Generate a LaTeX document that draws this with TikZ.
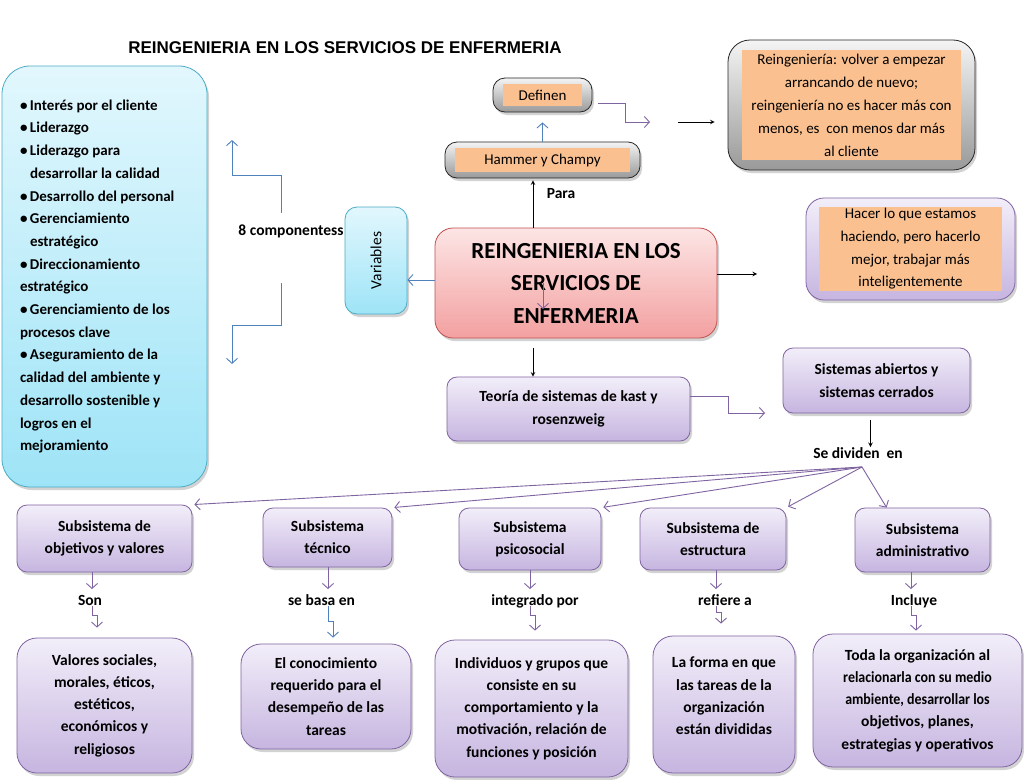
\documentclass[tikz,border=0pt]{standalone}
\usepackage{fontspec}
\usepackage{graphicx}
\setmainfont{Carlito}
\newfontfamily\titlefont{Liberation Sans}
\usetikzlibrary{shadows,arrows.meta}
\definecolor{pline}{HTML}{8064A2}
\definecolor{ptop}{HTML}{F2EEF9}
\definecolor{pbot}{HTML}{C6B5E0}
\definecolor{cline}{HTML}{4BACC6}
\definecolor{ctop}{HTML}{E2F7FD}
\definecolor{cbot}{HTML}{9EE4F7}
\definecolor{rline}{HTML}{C0504D}
\definecolor{rtop}{HTML}{FDE5E5}
\definecolor{rbot}{HTML}{F3A0A0}
\definecolor{gtop}{HTML}{F4F4F4}
\definecolor{gbot}{HTML}{999999}
\definecolor{fillorange}{HTML}{FAC090}
\definecolor{bline}{HTML}{4F81BD}

\begin{document}
\begin{tikzpicture}[x=1pt,y=-1pt,
    boxshadow/.style={drop shadow={shadow xshift=2pt,shadow yshift=-3pt,opacity=0.35}},
    pbox/.style={draw=pline, line width=0.8pt, rounded corners=10pt, top color=ptop, bottom color=pbot,
      boxshadow, align=center, inner sep=0pt, font=\bfseries\fontsize{15.5}{22.2}\selectfont},
    cbox/.style={draw=cline, line width=0.8pt, top color=ctop, bottom color=cbot, boxshadow, inner sep=0pt},
    rbox/.style={draw=rline, line width=0.8pt, rounded corners=18pt, top color=rtop, bottom color=rbot,
      boxshadow, align=center, inner sep=0pt},
    gbox/.style={draw=black!85, line width=0.8pt, rounded corners=12pt, top color=gtop, bottom color=gbot,
      boxshadow, align=center, inner sep=0pt, font=\fontsize{15}{23}\selectfont},
    inset/.style 2 args={path picture={\fill[fillorange, sharp corners]
      ([xshift=#1,yshift=#2]path picture bounding box.south west) rectangle
      ([xshift=-#1,yshift=-#2]path picture bounding box.north east);}},
    word/.style={inner sep=0pt, font=\bfseries\fontsize{15.5}{17}\selectfont, text height=10.5pt, text depth=3pt},
    parr/.style={draw=pline, line width=0.9pt, -{Straight Barb[length=5pt,width=11pt]}},
    barr/.style={draw=bline, line width=0.9pt, -{Straight Barb[length=5pt,width=11pt]}},
    karr/.style={->, >=stealth, line width=1pt}]

    \fill[white] (0,0) rectangle (1024,779);
    \useasboundingbox (0,0) rectangle (1024,779);

    %%%%%%%%%%%%%%%%%%%%%%%%%%%%%%%%%%%%%%%%%%%%%%
    %%% Title and the main box
    %%%%%%%%%%%%%%%%%%%%%%%%%%%%%%%%%%%%%%%%%%%%%%
    \node[inner sep=0pt, font=\titlefont\bfseries\fontsize{17}{20}\selectfont] (title) at (345,48)
        {REINGENIERIA EN LOS SERVICIOS DE ENFERMERIA};
    \node[rbox, minimum width=282pt, minimum height=110pt, font=\bfseries\fontsize{23}{32.5}\selectfont]
        (central) at (576,283) {REINGENIERIA EN LOS\\SERVICIOS DE\\ENFERMERIA};
    % stray arrow inside the main box
    \draw[parr] ([xshift=-33pt]central.center) -- ++(0,26);

    %%%%%%%%%%%%%%%%%%%%%%%%%%%%%%%%%%%%%%%%%%%%%%
    %%% Left side: variables and the 8 components
    %%%%%%%%%%%%%%%%%%%%%%%%%%%%%%%%%%%%%%%%%%%%%%
    \node[cbox, rounded corners=28pt, minimum width=205pt, minimum height=421pt, text width=169pt,
        align=flush left, inner xsep=18pt, font=\bfseries\fontsize{15}{22.7}\selectfont] (comps) at (104.5,276.5) {%
        \makebox[10pt][l]{•}Interés por el cliente\\
        \makebox[10pt][l]{•}Liderazgo\\
        \makebox[10pt][l]{•}Liderazgo para\\
        \hspace*{10pt}desarrollar la calidad\\
        \makebox[10pt][l]{•}Desarrollo del personal\\
        \makebox[10pt][l]{•}Gerenciamiento\\
        \hspace*{10pt}estratégico\\
        \makebox[10pt][l]{•}Direccionamiento\\
        estratégico\\
        \makebox[10pt][l]{•}Gerenciamiento de los\\
        procesos clave\\
        \makebox[10pt][l]{•}Aseguramiento de la\\
        calidad del ambiente y\\
        desarrollo sostenible y\\
        logros en el\\
        mejoramiento};
    \node[word] (eight) at (291,232) {8 componentess};
    \node[cbox, rounded corners=12pt, minimum width=62pt, minimum height=107pt,
        font=\fontsize{15.5}{17}\selectfont] (variables) at (376,260.5) {\rotatebox{90}{Variables}};

    \path ([yshift=3pt]central.west) coordinate (cwest);
    \draw[barr] (cwest) -- (variables.east |- cwest);
    \draw[barr, shorten <=12pt] ([xshift=-10pt]eight.north) -- ++(0,-50) -- ++(-49,0) -- ++(0,-35);
    \draw[barr, shorten <=44pt] ([xshift=-10pt]eight.south) -- ++(0,86) -- ++(-49,0) -- ++(0,39);

    %%%%%%%%%%%%%%%%%%%%%%%%%%%%%%%%%%%%%%%%%%%%%%
    %%% Top: Hammer y Champy and the definitions
    %%%%%%%%%%%%%%%%%%%%%%%%%%%%%%%%%%%%%%%%%%%%%%
    \node[gbox, inset={10pt}{6pt}, minimum width=195pt, minimum height=36pt] (hammer) at (542.5,160) {Hammer y Champy};
    \node[gbox, inset={10pt}{6pt}, minimum width=99pt, minimum height=34pt] (definen) at (542.5,95) {Definen};
    \node[gbox, inset={14pt}{10pt}, rounded corners=22pt, minimum width=247pt, minimum height=130pt]
        (reing) at (851.5,105) {Reingeniería: volver a empezar\\arrancando de nuevo;\\reingeniería no es hacer más con\\menos, es\ \ con menos dar más\\al cliente};
    \node[pbox, inset={13pt}{9pt}, rounded corners=18pt, minimum width=209pt, minimum height=102pt,
        font=\fontsize{15}{22.7}\selectfont] (hacer) at (910.5,249)
        {Hacer lo que estamos\\haciendo, pero hacerlo\\mejor, trabajar más\\inteligentemente};
    \node[word] (para) at (561,195) {Para};

    \draw[karr, shorten >=2pt] ([xshift=-43pt]central.north) -- ([xshift=-43pt]central.north |- hammer.south);
    \draw[barr, shorten >=10pt] (hammer.north) -- (definen.south);
    \coordinate (defend) at (650,122);
    \draw[parr, shorten <=6pt] ([yshift=-8pt]definen.east) -- ++(33,0) -- ++(0,19) -- (defend);
    \coordinate (reingin) at (678,122);
    \draw[karr, shorten >=13pt] (reingin) -- (reingin -| reing.west);
    \coordinate (hacerin) at (757,274);
    \draw[karr] (central.east |- hacerin) -- (hacerin);

    %%%%%%%%%%%%%%%%%%%%%%%%%%%%%%%%%%%%%%%%%%%%%%
    %%% Middle: systems theory
    %%%%%%%%%%%%%%%%%%%%%%%%%%%%%%%%%%%%%%%%%%%%%%
    \node[pbox, minimum width=243pt, minimum height=64pt, font=\bfseries\fontsize{15.5}{23}\selectfont]
        (teoria) at (568.5,409) {Teoría de sistemas de kast y\\rosenzweig};
    \node[pbox, minimum width=187pt, minimum height=65pt, font=\bfseries\fontsize{15.5}{23}\selectfont]
        (sistemas) at (876.5,380.5) {Sistemas abiertos y\\sistemas cerrados};
    \node[word] (dividen) at (858,455) {Se dividen\ \ en};

    \draw[karr, shorten <=10pt] ([xshift=-43pt]central.south) -- ([xshift=-43pt]central.south |- teoria.north);
    \coordinate (sisin) at (765,413);
    \draw[parr] ([yshift=13pt]teoria.east) -- ++(38,0) -- ++(0,17) -- (sisin);
    \draw[karr, shorten <=7pt, shorten >=1pt] ([xshift=-6pt]sistemas.south) -- ([xshift=-6pt]sistemas.south |- dividen.north);

    %%%%%%%%%%%%%%%%%%%%%%%%%%%%%%%%%%%%%%%%%%%%%%
    %%% Bottom: the five subsystems
    %%%%%%%%%%%%%%%%%%%%%%%%%%%%%%%%%%%%%%%%%%%%%%
    \foreach \n/\x/\y/\w/\h/\txt in {
        1/104.5/538.5/175/67/{Subsistema de\\objetivos y valores},
        2/327.5/537.5/129/59/{Subsistema\\técnico},
        3/530/539/142/62/{Subsistema\\psicosocial},
        4/713/539/146/62/{Subsistema de\\estructura},
        5/922.5/540/135/64/{Subsistema\\administrativo}}
        \node[pbox, minimum width=\w pt, minimum height=\h pt] (sub\n) at (\x,\y) {\txt};

    \foreach \n/\x/\y/\w/\h/\txt in {
        1/104.5/705.5/175/135/{Valores sociales,\\morales, éticos,\\estéticos,\\económicos y\\religiosos},
        2/326/696.5/170/105/{El conocimiento\\requerido para el\\desempeño de las\\tareas},
        3/531.5/708.5/193/137/{Individuos y grupos que\\consiste en su\\comportamiento y la\\motivación, relación de\\funciones y posición},
        4/724/704.5/142/137/{La forma en que\\las tareas de la\\organización\\están divididas\\[-5pt]},
        5/917.5/700.5/209/133/{Toda la organización al\\\scalebox{0.9}[1]{relacionarla con su medio}\\\scalebox{0.9}[1]{ambiente, desarrollar los}\\objetivos, planes,\\estrategias y operativos}}
        \node[pbox, rounded corners=20pt, minimum width=\w pt, minimum height=\h pt] (res\n) at (\x,\y) {\txt};

    \foreach \n/\x/\txt in {1/90/Son, 2/321.5/se basa en, 3/535/integrado por, 4/725/refiere a, 5/914/Incluye}
        \node[word] (lab\n) at (\x,602) {\txt};

    % From "Se dividen en" to every subsystem
    \coordinate (fan) at (862,467);
    \foreach \t in {sub1, sub2, sub3, sub4}
        \draw[parr, shorten >=2pt] (fan) -- (\t.north east);
    \draw[parr] (fan) -- ([xshift=32pt]sub5.north west);

    % subsystem -> verb -> content
    \foreach \n/\dx/\a/\g/\col in {1/2/9/10/parr, 2/6.5/15/6/barr, 3/-5/9/9/parr, 4/-9/6/12/parr, 5/-3/9/3/parr}
    {
        \path ([xshift=\dx pt]lab\n.north) coordinate (top\n) ([xshift=\dx pt,yshift=3pt]lab\n.south) coordinate (bot\n);
        \draw[parr, shorten >=6pt] (sub\n.south -| top\n) -- (top\n);
        \draw[\col, shorten >=\g pt] (bot\n) -- ++(0,\a) -- ++(5,0) coordinate (jog\n) -- (jog\n |- res\n.north);
    }
\end{tikzpicture}
\end{document}
